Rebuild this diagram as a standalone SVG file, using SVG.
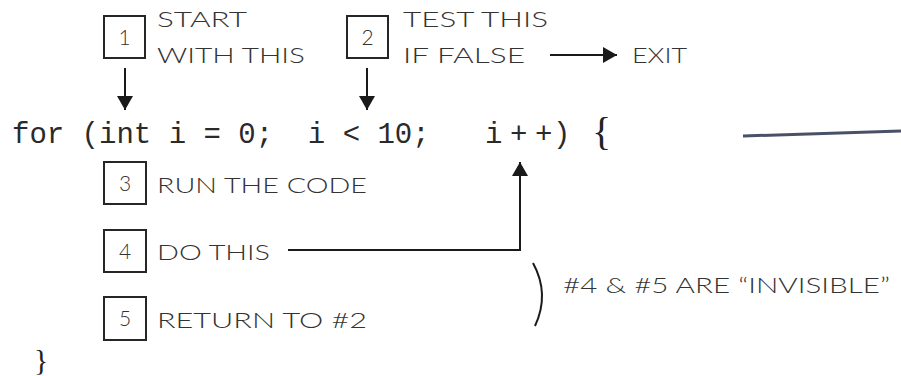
<svg xmlns="http://www.w3.org/2000/svg" width="901" height="376" viewBox="0 0 901 376">
<defs>
<style>
.box{fill:none;stroke:#262626;stroke-width:2}
.hw{font-family:"Lato","Open Sans","Liberation Sans",sans-serif;font-size:21px;fill:#333;font-weight:300}
.num{font-family:"Lato","Open Sans","Liberation Sans",sans-serif;font-size:21px;fill:#333;font-weight:300;text-anchor:middle}
.code{font-family:"Liberation Mono","Courier New",monospace;font-size:29px;fill:#2a2a2a;white-space:pre}
.conn{fill:none;stroke:#1a1a1a;stroke-width:2}
</style>
<marker id="ah" viewBox="0 0 14 16" refX="14" refY="8" markerWidth="14" markerHeight="16" markerUnits="userSpaceOnUse" orient="auto">
<path d="M0,0 L14,8 L0,16 Z" fill="#1a1a1a"/>
</marker>
</defs>
<rect width="901" height="376" fill="#fff"/>

<g id="code">
<text class="code" x="12" y="143" xml:space="preserve">for (int i = 0;  i &lt; 10;</text>
<text class="code" x="485 510 535 553" y="143">i++)</text>
<text x="592" y="145" style="font-family:'Liberation Serif',serif;font-size:40px;fill:#222">{</text>
<text x="34" y="370" style="font-family:'Liberation Serif',serif;font-size:30px;fill:#222">}</text>
</g>

<g id="step1">
<rect class="box" x="104" y="16" width="41" height="42"/>
<text class="num" x="124.5" y="45">1</text>
<text class="hw" x="157" y="27" textLength="90" lengthAdjust="spacingAndGlyphs">START</text>
<text class="hw" x="157" y="63" textLength="148" lengthAdjust="spacingAndGlyphs">WITH THIS</text>
</g>

<g id="step2">
<rect class="box" x="347" y="16" width="41" height="42"/>
<text class="num" x="367.5" y="45">2</text>
<text class="hw" x="403" y="27" textLength="145" lengthAdjust="spacingAndGlyphs">TEST THIS</text>
<text class="hw" x="403" y="63" textLength="122" lengthAdjust="spacingAndGlyphs">IF FALSE</text>
<text class="hw" x="632" y="63" textLength="55" lengthAdjust="spacingAndGlyphs">EXIT</text>
</g>

<g id="step3">
<rect class="box" x="104" y="162" width="42" height="42"/>
<text class="num" x="125" y="191">3</text>
<text class="hw" x="157" y="193" textLength="210" lengthAdjust="spacingAndGlyphs">RUN THE CODE</text>
</g>

<g id="step4">
<rect class="box" x="104" y="230" width="42" height="42"/>
<text class="num" x="125" y="259">4</text>
<text class="hw" x="157" y="260" textLength="113" lengthAdjust="spacingAndGlyphs">DO THIS</text>
</g>

<g id="step5">
<rect class="box" x="104" y="297" width="42" height="43"/>
<text class="num" x="125" y="326">5</text>
<text class="hw" x="157" y="328" textLength="210" lengthAdjust="spacingAndGlyphs">RETURN TO #2</text>
</g>

<g id="note">
<path d="M533,263 Q550,294 535,326" fill="none" stroke="#1a1a1a" stroke-width="2"/>
<text class="hw" x="563" y="293" textLength="327" lengthAdjust="spacingAndGlyphs">#4 &amp; #5 ARE “INVISIBLE”</text>
</g>

<g id="connectors">
<line class="conn" x1="125" y1="68" x2="125" y2="110" marker-end="url(#ah)"/>
<line class="conn" x1="367" y1="68" x2="367" y2="110" marker-end="url(#ah)"/>
<line class="conn" x1="550" y1="55" x2="617" y2="55" marker-end="url(#ah)"/>
<polyline class="conn" points="288,250 520,250 520,162" marker-end="url(#ah)"/>
<line x1="743" y1="136" x2="901" y2="131" stroke="#4a5068" stroke-width="3"/>
</g>
</svg>
